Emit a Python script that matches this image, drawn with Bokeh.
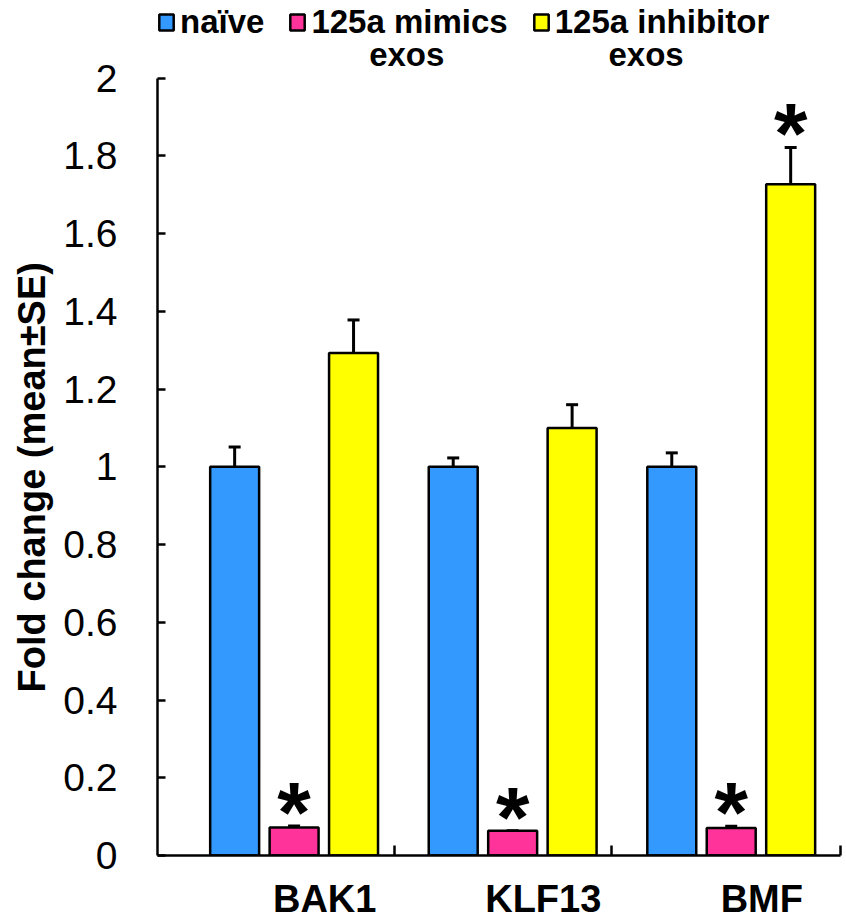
from bokeh.plotting import figure
from bokeh.models import (Range1d, FixedTicker, Whisker, TeeHead, ColumnDataSource,
                          Legend, LegendItem, Title, Label)
from bokeh.embed import file_html
from bokeh.resources import INLINE
from bokeh.core.properties import value

# ---------------- data ----------------
genes = ["BAK1", "KLF13", "BMF"]
series_first_line = ["naïve", "125a mimics", "125a inhibitor"]
series_second_line = ["", "exos", "exos"]
series_colors = ["#3399FF", "#FF3399", "#FFFF00"]

naive = [1.0, 1.0, 1.0]
naive_se = [0.051, 0.023, 0.036]
mimics = [0.072, 0.064, 0.071]
mimics_se = [0.004, 0.0, 0.004]
inhibitor = [1.293, 1.100, 1.727]
inhibitor_se = [0.085, 0.060, 0.095]

sig_mimics = [True, True, True]
sig_inhibitor = [False, False, True]

y_ticks = [0, 0.2, 0.4, 0.6, 0.8, 1.0, 1.2, 1.4, 1.6, 1.8, 2.0]
y_tick_labels = ["0", "0.2", "0.4", "0.6", "0.8", "1", "1.2", "1.4", "1.6", "1.8", "2"]
y_title = "Fold change (mean±SE)"

# ---------------- layout helpers ----------------
BAR_W = 0.224
STEP = 0.272
offsets = [-STEP, 0.0, STEP]
LABEL_SHIFT = 0.14
FONT = "Liberation Sans"
X0, X1, Y0, Y1 = -0.125, 3.0, 0.0, 2.2
FL, FR, FT, FB = 155, 840, 0, 856          # frame edges in pixels


def px_to_x(px):
    return X0 + (px - FL) * (X1 - X0) / (FR - FL)


def px_to_y(py):
    return Y0 + (FB - py) * (Y1 - Y0) / (FB - FT)


p = figure(width=846, height=922,
           x_range=Range1d(X0, X1), y_range=Range1d(Y0, Y1),
           min_border_left=FL, min_border_right=846 - FR, min_border_top=FT,
           min_border_bottom=922 - FB,
           output_backend="svg", toolbar_location=None)

values = [naive, mimics, inhibitor]
errors = [naive_se, mimics_se, inhibitor_se]
sigs = [[False] * 3, sig_mimics, sig_inhibitor]

renderers = []
for k in range(3):
    xs = [i + 0.5 + offsets[k] for i in range(len(genes))]
    src = ColumnDataSource(dict(x=xs, top=values[k],
                                up=[v + e for v, e in zip(values[k], errors[k])]))
    w = Whisker(source=src, base="x", lower="top", upper="up", dimension="height",
                line_color="black", line_width=3,
                upper_head=TeeHead(size=12, line_width=3, line_color="black"),
                lower_head=None, level="underlay")
    p.add_layout(w)
    r = p.vbar(x="x", top="top", width=BAR_W, bottom=0, source=src,
               fill_color=series_colors[k], line_color="black", line_width=2.5)
    renderers.append(r)
    sx = [x for x, s in zip(xs, sigs[k]) if s]
    sy = [v + e for v, e, s in zip(values[k], errors[k], sigs[k]) if s]
    if sx:
        p.text(x=sx, y=sy, text=["*"] * len(sx), text_align="center",
               text_baseline="alphabetic", y_offset=-14,
               text_font=value(FONT), text_font_size="86px", text_font_style="bold",
               text_color="black")

# legend (first line of each label), second line as text labels below
items = [LegendItem(label=series_first_line[k], renderers=[renderers[k]]) for k in range(3)]
legend = Legend(items=items, orientation="horizontal", location=(0, 814),
                label_text_font=FONT, label_text_font_size="33px",
                label_text_font_style="bold", label_text_color="black",
                label_standoff=5, spacing=24,
                glyph_width=18, glyph_height=20, padding=0, margin=0,
                border_line_alpha=0, background_fill_alpha=0)
p.add_layout(legend)

second_line_centers = [None, 405, 645]
for k in range(3):
    if series_second_line[k]:
        p.add_layout(Label(x=px_to_x(second_line_centers[k]), y=px_to_y(54),
                           text=series_second_line[k], text_align="center",
                           text_baseline="alphabetic", text_font=FONT,
                           text_font_size="33px", text_font_style="bold",
                           text_color="black"))

# axes
p.xgrid.visible = False
p.ygrid.visible = False
p.outline_line_color = None

yax = p.yaxis[0]
yax.bounds = (0, 2)
yax.ticker = FixedTicker(ticks=y_ticks)
yax.major_label_overrides = {t: l for t, l in zip(y_ticks, y_tick_labels)}
yax.major_label_text_font = FONT
yax.major_label_text_font_size = "39px"
yax.major_label_text_color = "black"
yax.major_label_standoff = 40
yax.major_tick_in = 8
yax.major_tick_out = 0
yax.minor_tick_line_color = None
yax.axis_line_width = 2.5
yax.major_tick_line_width = 2.5

ytitle = Title(text=y_title, align="left", offset=163, standoff=16,
               text_font=FONT, text_font_size="38px", text_font_style="bold",
               text_color="black")
p.add_layout(ytitle, "left")

xax = p.xaxis[0]
label_pos = [i + 0.5 + LABEL_SHIFT for i in range(len(genes))]
xax.ticker = FixedTicker(ticks=label_pos, minor_ticks=[0.96, 1.95, 3.0])
xax.major_label_overrides = {t: g for t, g in zip(label_pos, genes)}
xax.major_label_text_font = FONT
xax.major_label_text_font_size = "38px"
xax.major_label_text_font_style = "bold"
xax.major_label_text_color = "black"
xax.major_label_standoff = 22
xax.major_tick_in = 0
xax.major_tick_out = 0
xax.minor_tick_in = 10
xax.minor_tick_out = 0
xax.minor_tick_line_width = 2.5
xax.axis_line_width = 2.5

open("out.html", "w").write(file_html(p, INLINE))
